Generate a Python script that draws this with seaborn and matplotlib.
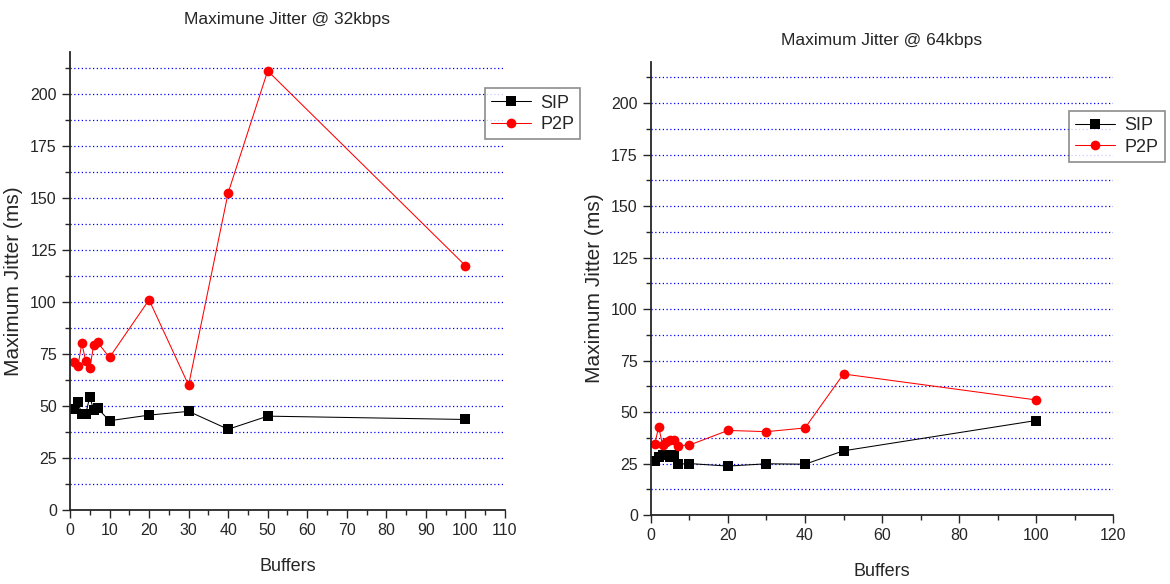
import numpy as np
import pandas as pd
import matplotlib
matplotlib.use('Agg')
import matplotlib.pyplot as plt
import seaborn as sns
from matplotlib.ticker import MultipleLocator

sns.set_style('ticks')
plt.rcParams['font.family'] = ['Liberation Sans', 'DejaVu Sans']

# Buffers on x axis (same for both panels)
buffers = [1, 2, 3, 4, 5, 6, 7, 10, 20, 30, 40, 50, 100]

# 32 kbps
sip_32 = [48.3, 51.9, 46.0, 46.2, 54.4, 48.0, 48.8, 42.9, 45.6, 47.4, 38.8, 45.1, 43.5]
p2p_32 = [71.0, 69.0, 80.1, 71.4, 68.0, 79.2, 80.5, 73.3, 101.0, 60.0, 152.4, 211.0, 117.4]

# 64 kbps
sip_64 = [26.1, 28.3, 29.4, 29.4, 28.3, 29.4, 24.7, 25.0, 23.8, 24.9, 24.7, 31.2, 45.9]
p2p_64 = [34.6, 42.9, 34.0, 35.5, 36.4, 36.4, 33.7, 34.0, 41.1, 40.5, 42.3, 68.5, 55.9]

protocols = ['SIP', 'P2P']
colors = {'SIP': 'black', 'P2P': 'red'}
markers = {'SIP': 's', 'P2P': 'o'}


def make_df(sip, p2p):
    return pd.DataFrame({
        'Buffers': buffers * 2,
        'Jitter': sip + p2p,
        'Protocol': ['SIP'] * len(buffers) + ['P2P'] * len(buffers),
    })


def draw_panel(ax, df, title, xmax, xmajor, xminor, leg_anchor, title_pad):
    sns.lineplot(data=df, x='Buffers', y='Jitter', hue='Protocol', style='Protocol',
                 hue_order=protocols, style_order=protocols,
                 palette=colors, markers=markers, dashes=False,
                 markersize=7, linewidth=0.75, markeredgewidth=0, ax=ax)
    ax.set_xlim(0, xmax)
    ax.set_ylim(0, 220)
    ax.xaxis.set_major_locator(MultipleLocator(xmajor))
    ax.xaxis.set_minor_locator(MultipleLocator(xminor))
    ax.yaxis.set_major_locator(MultipleLocator(25))
    ax.yaxis.set_minor_locator(MultipleLocator(12.5))
    ax.tick_params(which='major', direction='out', length=6, width=1, labelsize=11.5)
    ax.tick_params(which='minor', direction='out', length=3.5, width=1)
    ax.grid(True, axis='y', which='both', color='blue', linestyle=(0, (1, 2)), linewidth=0.9)
    for s in ['top', 'right']:
        ax.spines[s].set_visible(False)
    ax.spines['left'].set_linewidth(1.3)
    ax.spines['bottom'].set_linewidth(1.3)
    ax.set_xlabel('Buffers', fontsize=13, labelpad=14)
    ax.set_ylabel('Maximum Jitter (ms)', fontsize=15, labelpad=5)
    ax.set_title(title, fontsize=12.5, pad=title_pad)
    leg = ax.legend(loc='upper left', bbox_to_anchor=leg_anchor, borderaxespad=0,
                    fontsize=13, frameon=True, fancybox=False, handlelength=2.2,
                    handletextpad=0.5, borderpad=0.35, labelspacing=0.25)
    leg.get_frame().set_edgecolor('#707070')
    leg.get_frame().set_linewidth(1.2)


fig = plt.figure(figsize=(11.7, 5.84), dpi=100)
ax1 = fig.add_axes([0.0598, 0.1267, 0.3718, 0.784])
ax2 = fig.add_axes([0.5564, 0.118, 0.3949, 0.776])

draw_panel(ax1, make_df(sip_32, p2p_32), 'Maximune Jitter @ 32kbps', 110, 10, 5,
           (0.954, 0.921), 20)
draw_panel(ax2, make_df(sip_64, p2p_64), 'Maximum Jitter @ 64kbps', 120, 20, 10,
           (0.905, 0.892), 12)

fig.savefig('out.png', dpi=100)
